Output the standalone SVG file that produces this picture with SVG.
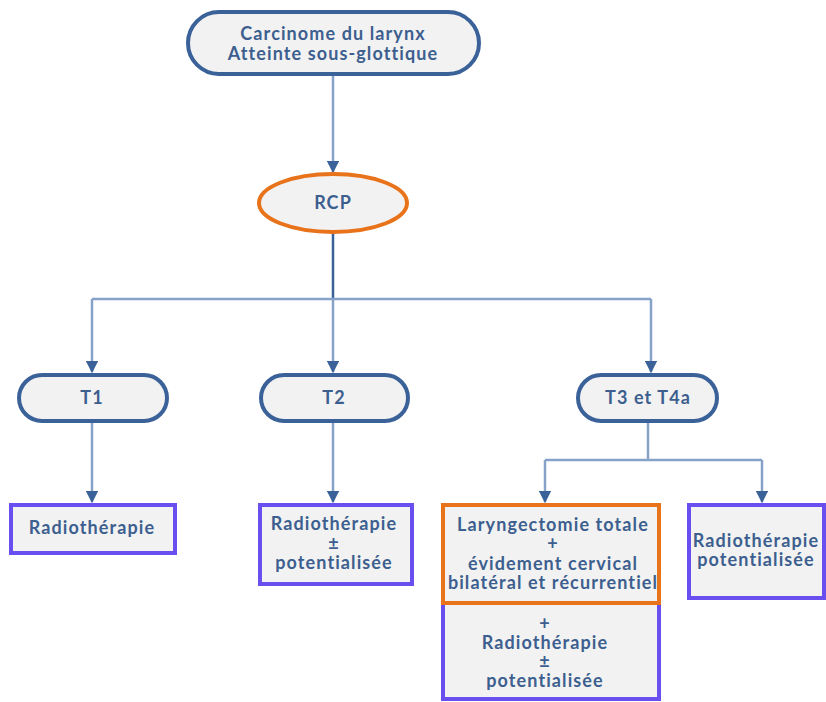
<svg xmlns="http://www.w3.org/2000/svg" width="826" height="702" viewBox="0 0 826 702">
  <style>
    .pill { fill: #f2f2f2; stroke: #3a6299; stroke-width: 4; }
    .orange { fill: #f2f2f2; stroke: #e8731a; stroke-width: 4; }
    .purple { fill: #f2f2f2; stroke: #6a4ff0; stroke-width: 4; }
    .lbl { font-family: Lato, "Liberation Sans", sans-serif; font-weight: 700; font-size: 18px; letter-spacing: 1.1px; fill: #3d5f8f; text-anchor: middle; dominant-baseline: central; }
    .link { fill: none; stroke: #86a2c8; stroke-width: 2.5; }
    .trunk { fill: none; stroke: #3a6299; stroke-width: 2.5; }
  </style>
  <defs>
    <marker id="arrow" viewBox="0 0 10 10" refX="9" refY="5" markerWidth="5" markerHeight="5" orient="auto" markerUnits="strokeWidth">
      <path d="M0,0 L10,5 L0,10 z" fill="#3a6299"/>
    </marker>
  </defs>
  <rect width="826" height="702" fill="#ffffff"/>

  <g id="connectors">
    <path class="link" d="M333,74 V172" marker-end="url(#arrow)"/>
    <path class="trunk" d="M333,232 V299"/>
    <path class="link" d="M92,299 H651"/>
    <path class="link" d="M92,299 V372" marker-end="url(#arrow)"/>
    <path class="link" d="M333,299 V372" marker-end="url(#arrow)"/>
    <path class="link" d="M651,299 V372" marker-end="url(#arrow)"/>
    <path class="link" d="M92,421 V502" marker-end="url(#arrow)"/>
    <path class="link" d="M333,421 V502" marker-end="url(#arrow)"/>
    <path class="link" d="M648,421 V460"/>
    <path class="link" d="M545,460 H762"/>
    <path class="link" d="M545,460 V502" marker-end="url(#arrow)"/>
    <path class="link" d="M762,460 V502" marker-end="url(#arrow)"/>
  </g>

  <g id="n-carcinome">
    <rect class="pill" x="188" y="12" width="291" height="62" rx="31"/>
    <text class="lbl" x="333" y="33">Carcinome du larynx</text>
    <text class="lbl" x="333" y="53">Atteinte sous-glottique</text>
  </g>

  <g id="n-rcp">
    <ellipse class="orange" cx="333" cy="203" rx="74" ry="29"/>
    <text class="lbl" x="333" y="202">RCP</text>
  </g>

  <g id="n-t1">
    <rect class="pill" x="19" y="375" width="148" height="46" rx="23"/>
    <text class="lbl" x="92" y="397">T1</text>
  </g>

  <g id="n-t2">
    <rect class="pill" x="261" y="375" width="147" height="46" rx="23"/>
    <text class="lbl" x="334" y="397">T2</text>
  </g>

  <g id="n-t3">
    <rect class="pill" x="578" y="375" width="139" height="46" rx="23"/>
    <text class="lbl" x="648" y="397">T3 et T4a</text>
  </g>

  <g id="n-radio-t1">
    <rect class="purple" x="11" y="505" width="164" height="48"/>
    <text class="lbl" x="92" y="527">Radiothérapie</text>
  </g>

  <g id="n-radio-t2">
    <rect class="purple" x="260" y="505" width="152" height="79"/>
    <text class="lbl" x="334" y="523">Radiothérapie</text>
    <text class="lbl" x="334" y="543">±</text>
    <text class="lbl" x="334" y="562">potentialisée</text>
  </g>

  <g id="n-radio-post">
    <rect class="purple" x="443" y="603" width="216" height="96"/>
    <text class="lbl" x="545" y="623">+</text>
    <text class="lbl" x="545" y="642">Radiothérapie</text>
    <text class="lbl" x="545" y="661">±</text>
    <text class="lbl" x="545" y="680">potentialisée</text>
  </g>

  <g id="n-laryngectomie">
    <rect class="orange" x="443" y="505" width="216" height="98"/>
    <text class="lbl" x="553" y="524">Laryngectomie totale</text>
    <text class="lbl" x="553" y="543">+</text>
    <text class="lbl" x="553" y="563">évidement cervical</text>
    <text class="lbl" x="553" y="582">bilatéral et récurrentiel</text>
  </g>

  <g id="n-radio-t3">
    <rect class="purple" x="689" y="505" width="135" height="93"/>
    <text class="lbl" x="756" y="540">Radiothérapie</text>
    <text class="lbl" x="756" y="559">potentialisée</text>
  </g>
</svg>
